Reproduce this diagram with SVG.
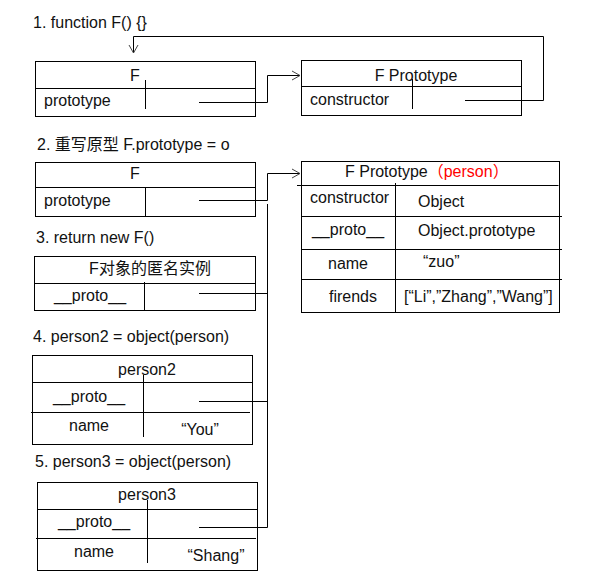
<svg xmlns="http://www.w3.org/2000/svg" width="595" height="586" viewBox="0 0 595 586">
<defs>
<style>
text{font-family:"Liberation Sans","Noto Sans CJK SC",Arial,sans-serif;font-size:16px;fill:#111}
.c{text-anchor:middle}
.b{fill:none;stroke:#000;stroke-width:1}
.l{fill:none;stroke:#000;stroke-width:1}
.r{fill:#f00}
</style>
<marker id="ah" markerWidth="12" markerHeight="12" refX="10" refY="6" orient="auto" markerUnits="userSpaceOnUse">
<path d="M2,1.5 L10,6 L2,10.5" fill="none" stroke="#444" stroke-width="1"/>
</marker>
</defs>
<rect width="595" height="586" fill="#fff"/>

<g id="titles">
<text x="33" y="28">1. function F() {}</text>
<text x="37" y="150">2. 重写原型 F.prototype = o</text>
<text x="36" y="243">3. return new F()</text>
<text x="33" y="342">4. person2 = object(person)</text>
<text x="35" y="467">5. person3 = object(person)</text>
</g>

<g id="F1">
<rect class="b" x="35.5" y="61.5" width="220" height="55"/>
<path class="l" d="M35.5,88.5H255.5M145.5,80V109"/>
<text class="c" x="135" y="81">F</text>
<text x="44" y="106">prototype</text>
</g>

<g id="FProto1">
<rect class="b" x="301.5" y="60.5" width="220" height="55"/>
<path class="l" d="M301.5,86.5H521.5M412.5,79V109"/>
<text class="c" x="416" y="81">F Prototype</text>
<text x="310" y="105">constructor</text>
</g>

<g id="F2">
<rect class="b" x="35.5" y="162.5" width="220" height="54"/>
<path class="l" d="M35.5,187.5H255.5M145.5,187.5V216.5"/>
<text class="c" x="135" y="179">F</text>
<text x="44" y="206">prototype</text>
</g>

<g id="anon">
<rect class="b" x="34.5" y="256.5" width="221" height="54"/>
<path class="l" d="M34.5,283.5H255.5M144.5,282V310.5"/>
<text class="c" x="150" y="274">F对象的匿名实例</text>
<text class="c" x="90" y="301">__proto__</text>
</g>

<g id="person">
<rect class="b" x="301.5" y="161.5" width="258" height="151"/>
<path class="l" d="M297,185.5H558.5M395.5,183V312.5M301.5,216.5H562M301.5,249.5H562M301.5,279.5H562"/>
<text x="345" y="177">F Prototype<tspan class="r">（person）</tspan></text>
<text x="310" y="203">constructor</text>
<text x="418" y="207">Object</text>
<text class="c" x="348" y="235">__proto__</text>
<text x="418" y="236">Object.prototype</text>
<text class="c" x="348" y="269">name</text>
<text x="423" y="267">“zuo”</text>
<text class="c" x="353" y="302">firends</text>
<text x="404" y="302">[“Li”,”Zhang”,”Wang”]</text>
</g>

<g id="person2">
<rect class="b" x="32.5" y="355.5" width="220" height="89"/>
<path class="l" d="M32.5,382.5H252.5M31,412.5H250M143.5,375V437"/>
<text class="c" x="147" y="375">person2</text>
<text class="c" x="89" y="402">__proto__</text>
<text class="c" x="89" y="431">name</text>
<text class="c" x="200" y="435">“You”</text>
</g>

<g id="person3">
<rect class="b" x="37.5" y="482.5" width="220" height="88"/>
<path class="l" d="M37.5,509.5H257.5M36,538.5H256M147.5,500V563"/>
<text class="c" x="147" y="500">person3</text>
<text class="c" x="94" y="527">__proto__</text>
<text class="c" x="94" y="557">name</text>
<text class="c" x="216" y="561">“Shang”</text>
</g>

<g id="connectors">
<polyline class="l" points="199,102.5 267.5,102.5 267.5,75.5 300,75.5" marker-end="url(#ah)"/>
<polyline class="l" points="465,100.5 543.5,100.5 543.5,36.5 133.5,36.5 133.5,53" marker-end="url(#ah)"/>
<polyline class="l" points="199,200.5 267.5,200.5 267.5,173.5 300,173.5" marker-end="url(#ah)"/>
<path class="l" d="M267.5,204V527.5M199,293.5H267.5M199,401.5H267.5M199,527.5H267.5"/>
</g>
</svg>
